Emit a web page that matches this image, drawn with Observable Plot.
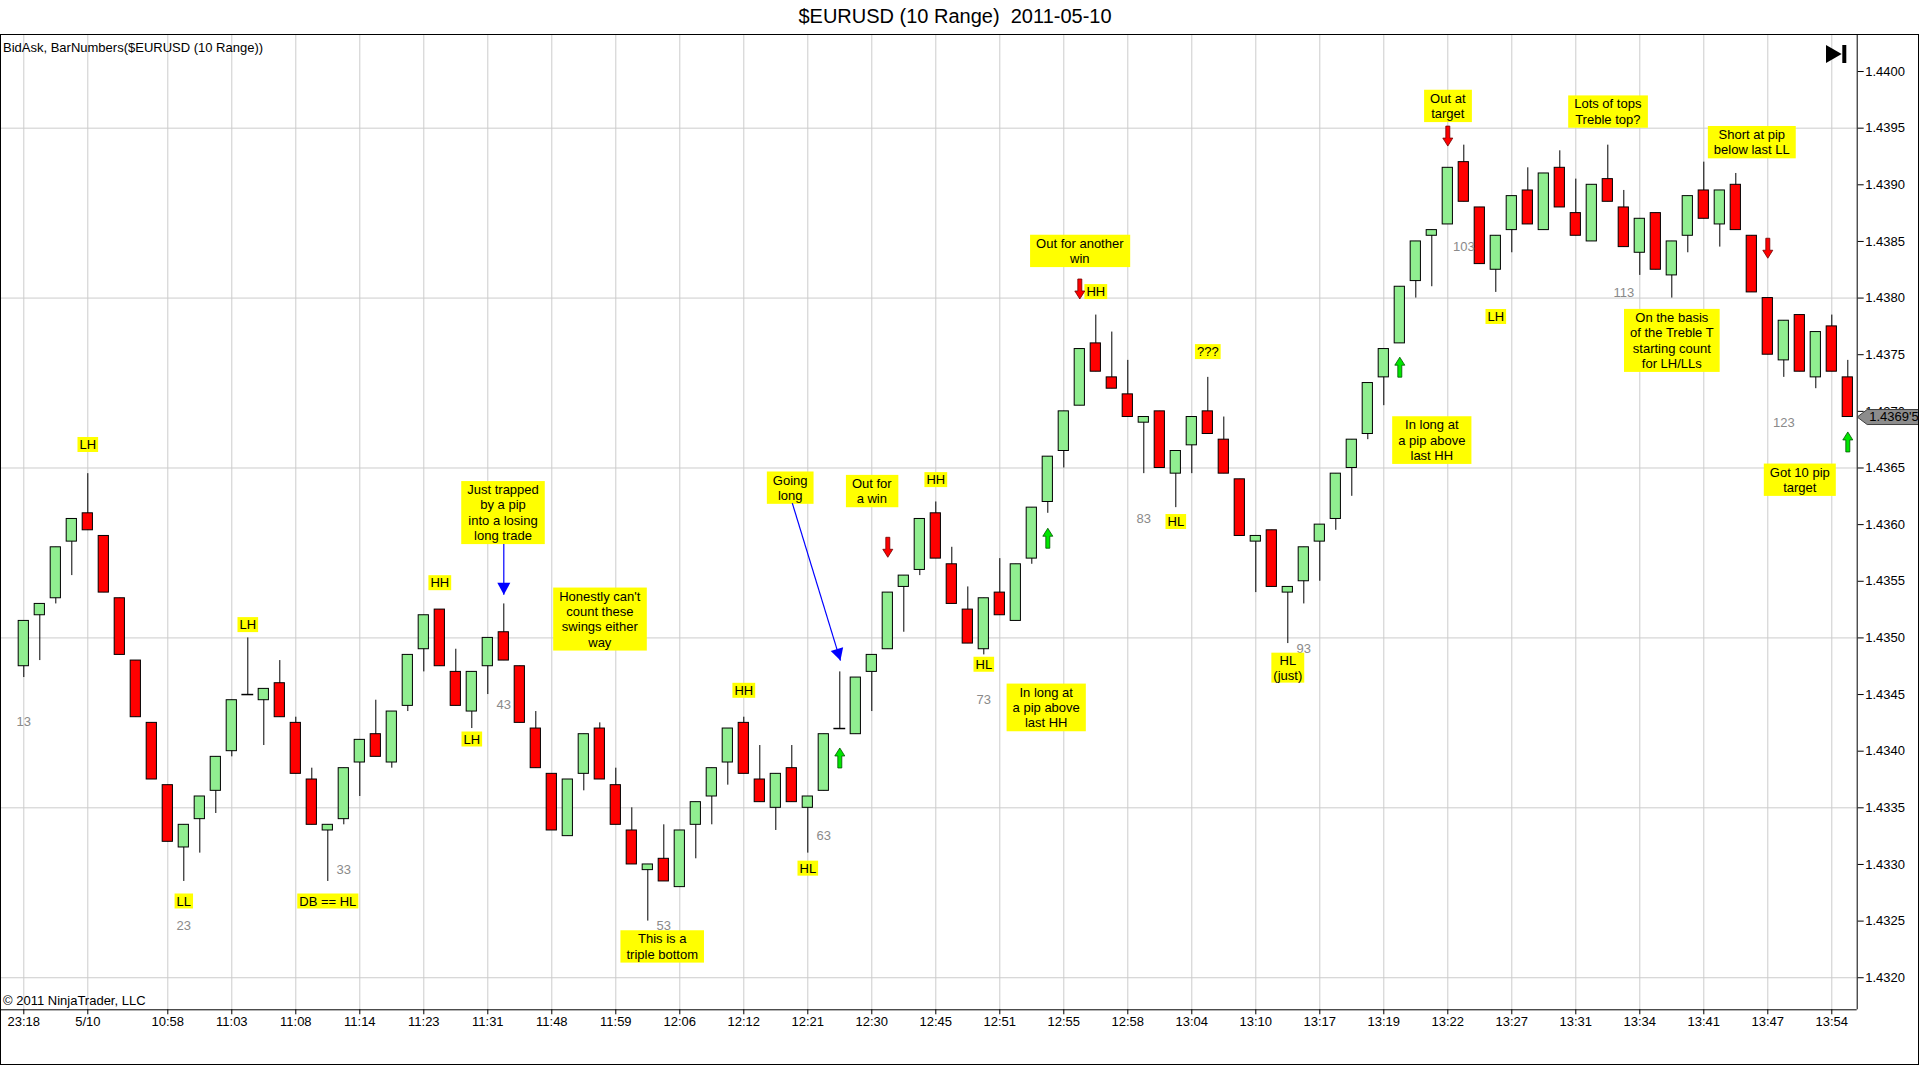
<!DOCTYPE html>
<html>
<head>
<meta charset="utf-8">
<title>$EURUSD (10 Range) 2011-05-10</title>
<script src="https://cdn.jsdelivr.net/npm/d3@7"></script>
<script src="https://cdn.jsdelivr.net/npm/@observablehq/plot@0.6"></script>
<style>
html, body { margin:0; padding:0; background:#fff; }
body { width:1920px; height:1065px; position:relative; overflow:hidden; font-family:"Liberation Sans", Arial, Helvetica, sans-serif; color:#000; }
#title { position:absolute; left:0; top:0; width:1910px; height:34px; line-height:33px; text-align:center; font-size:20px; white-space:pre; }
#frame { position:absolute; left:0; top:34px; width:1919px; height:1031px; box-sizing:border-box; border:1px solid #000; }
#chart { position:absolute; left:1px; top:35px; }
#indicator { position:absolute; left:3px; top:40px; font-size:13px; line-height:15px; white-space:pre; }
#copyright { position:absolute; left:3px; top:993px; font-size:13px; line-height:15px; white-space:pre; }
#endicon { position:absolute; left:1826px; top:45px; }
</style>
</head>
<body>
<div id="title">$EURUSD (10 Range)  2011-05-10</div>
<div id="frame"></div>
<div id="chart"></div>
<div id="indicator">BidAsk, BarNumbers($EURUSD (10 Range))</div>
<div id="copyright">© 2011 NinjaTrader, LLC</div>
<svg id="endicon" width="21" height="19"><polygon points="0,0 15.7,9 0,18" fill="#000"/><rect x="16.3" y="0" width="4" height="18" fill="#000"/></svg>
<script>
// ---------------- data ----------------
const barIdx = d3.range(13, 128); // bar numbers 13..127

const opens = [
  1.43475, 1.43520, 1.43535, 1.43585, 1.43610, 1.43590, 1.43535, 1.43480, 1.43425, 1.43370,
  1.43315, 1.43340, 1.43365, 1.43400, 1.43450, 1.43445, 1.43460, 1.43425, 1.43375, 1.43330,
  1.43340, 1.43390, 1.43415, 1.43390, 1.43440, 1.43490, 1.43525, 1.43470, 1.43435, 1.43475,
  1.43505, 1.43475, 1.43420, 1.43380, 1.43325, 1.43380, 1.43420, 1.43370, 1.43330, 1.43295,
  1.43305, 1.43280, 1.43335, 1.43360, 1.43390, 1.43425, 1.43375, 1.43350, 1.43385, 1.43350,
  1.43365, 1.43420, 1.43415, 1.43470, 1.43490, 1.43545, 1.43560, 1.43610, 1.43565, 1.43525,
  1.43490, 1.43540, 1.43515, 1.43570, 1.43620, 1.43665, 1.43705, 1.43760, 1.43730, 1.43715,
  1.43690, 1.43700, 1.43645, 1.43670, 1.43700, 1.43675, 1.43640, 1.43585, 1.43595, 1.43540,
  1.43550, 1.43585, 1.43605, 1.43650, 1.43680, 1.43730, 1.43760, 1.43815, 1.43855, 1.43865,
  1.43920, 1.43880, 1.43825, 1.43860, 1.43895, 1.43860, 1.43915, 1.43875, 1.43850, 1.43905,
  1.43880, 1.43840, 1.43875, 1.43820, 1.43855, 1.43895, 1.43865, 1.43900, 1.43855, 1.43800,
  1.43745, 1.43785, 1.43730, 1.43775, 1.43730
];
const highs = [
  1.43515, 1.43530, 1.43580, 1.43605, 1.43645, 1.43590, 1.43535, 1.43480, 1.43425, 1.43370,
  1.43335, 1.43360, 1.43395, 1.43445, 1.43500, 1.43455, 1.43480, 1.43430, 1.43385, 1.43335,
  1.43385, 1.43410, 1.43445, 1.43435, 1.43485, 1.43520, 1.43525, 1.43490, 1.43470, 1.43500,
  1.43530, 1.43475, 1.43435, 1.43380, 1.43375, 1.43415, 1.43425, 1.43385, 1.43350, 1.43300,
  1.43335, 1.43330, 1.43355, 1.43385, 1.43420, 1.43430, 1.43405, 1.43380, 1.43405, 1.43360,
  1.43415, 1.43470, 1.43465, 1.43485, 1.43540, 1.43555, 1.43605, 1.43620, 1.43580, 1.43545,
  1.43535, 1.43570, 1.43565, 1.43615, 1.43660, 1.43700, 1.43755, 1.43785, 1.43770, 1.43745,
  1.43695, 1.43700, 1.43665, 1.43695, 1.43730, 1.43695, 1.43640, 1.43590, 1.43595, 1.43545,
  1.43580, 1.43600, 1.43645, 1.43675, 1.43725, 1.43755, 1.43810, 1.43850, 1.43860, 1.43915,
  1.43935, 1.43880, 1.43855, 1.43890, 1.43915, 1.43910, 1.43930, 1.43905, 1.43900, 1.43935,
  1.43895, 1.43870, 1.43875, 1.43850, 1.43890, 1.43920, 1.43895, 1.43910, 1.43855, 1.43800,
  1.43780, 1.43785, 1.43770, 1.43785, 1.43745
];
const lows = [
  1.43465, 1.43480, 1.43530, 1.43555, 1.43595, 1.43540, 1.43485, 1.43430, 1.43375, 1.43320,
  1.43285, 1.43310, 1.43345, 1.43395, 1.43450, 1.43405, 1.43430, 1.43380, 1.43335, 1.43285,
  1.43335, 1.43360, 1.43395, 1.43385, 1.43435, 1.43470, 1.43475, 1.43440, 1.43420, 1.43450,
  1.43480, 1.43425, 1.43385, 1.43330, 1.43325, 1.43365, 1.43375, 1.43335, 1.43300, 1.43250,
  1.43285, 1.43280, 1.43305, 1.43335, 1.43370, 1.43380, 1.43355, 1.43330, 1.43355, 1.43310,
  1.43365, 1.43420, 1.43415, 1.43435, 1.43490, 1.43505, 1.43555, 1.43570, 1.43530, 1.43495,
  1.43485, 1.43520, 1.43515, 1.43565, 1.43610, 1.43650, 1.43705, 1.43735, 1.43720, 1.43695,
  1.43645, 1.43650, 1.43615, 1.43645, 1.43680, 1.43645, 1.43590, 1.43540, 1.43545, 1.43495,
  1.43530, 1.43550, 1.43595, 1.43625, 1.43675, 1.43705, 1.43760, 1.43800, 1.43810, 1.43865,
  1.43885, 1.43830, 1.43805, 1.43840, 1.43865, 1.43860, 1.43880, 1.43855, 1.43850, 1.43885,
  1.43845, 1.43820, 1.43825, 1.43800, 1.43840, 1.43870, 1.43845, 1.43860, 1.43805, 1.43750,
  1.43730, 1.43735, 1.43720, 1.43735, 1.43695
];
const closes = [
  1.43515, 1.43530, 1.43580, 1.43605, 1.43595, 1.43540, 1.43485, 1.43430, 1.43375, 1.43320,
  1.43335, 1.43360, 1.43395, 1.43445, 1.43450, 1.43455, 1.43430, 1.43380, 1.43335, 1.43335,
  1.43385, 1.43410, 1.43395, 1.43435, 1.43485, 1.43520, 1.43475, 1.43440, 1.43470, 1.43500,
  1.43480, 1.43425, 1.43385, 1.43330, 1.43375, 1.43415, 1.43375, 1.43335, 1.43300, 1.43300,
  1.43285, 1.43330, 1.43355, 1.43385, 1.43420, 1.43380, 1.43355, 1.43380, 1.43355, 1.43360,
  1.43415, 1.43420, 1.43465, 1.43485, 1.43540, 1.43555, 1.43605, 1.43570, 1.43530, 1.43495,
  1.43535, 1.43520, 1.43565, 1.43615, 1.43660, 1.43700, 1.43755, 1.43735, 1.43720, 1.43695,
  1.43695, 1.43650, 1.43665, 1.43695, 1.43680, 1.43645, 1.43590, 1.43590, 1.43545, 1.43545,
  1.43580, 1.43600, 1.43645, 1.43675, 1.43725, 1.43755, 1.43810, 1.43850, 1.43860, 1.43915,
  1.43885, 1.43830, 1.43855, 1.43890, 1.43865, 1.43910, 1.43880, 1.43855, 1.43900, 1.43885,
  1.43845, 1.43870, 1.43825, 1.43850, 1.43890, 1.43870, 1.43895, 1.43860, 1.43805, 1.43750,
  1.43780, 1.43735, 1.43770, 1.43735, 1.43695
];

// time axis
const timeTickBars = [13, 17, 22, 26, 30, 34, 38, 42, 46, 50, 54, 58, 62, 66, 70, 74, 78, 82, 86, 90, 94, 98, 102, 106, 110, 114, 118, 122, 126];
const timeLabels = ["23:18", "5/10", "10:58", "11:03", "11:08", "11:14", "11:23", "11:31", "11:48", "11:59", "12:06", "12:12", "12:21", "12:30", "12:45", "12:51", "12:55", "12:58", "13:04", "13:10", "13:17", "13:19", "13:22", "13:27", "13:31", "13:34", "13:41", "13:47", "13:54"];

// price axis
const priceTicks = [1.4320, 1.4325, 1.4330, 1.4335, 1.4340, 1.4345, 1.4350, 1.4355, 1.4360, 1.4365, 1.4370, 1.4375, 1.4380, 1.4385, 1.4390, 1.4395, 1.4400];
const gridPrices = [1.4320, 1.4335, 1.4350, 1.4365, 1.4380, 1.4395];

// bar number indicator
const barNumBars = [13, 23, 33, 43, 53, 63, 73, 83, 93, 103, 113, 123];
const barNumPrices = [1.43426, 1.43246, 1.43295, 1.43441, 1.43246, 1.43325, 1.43445, 1.43605, 1.43490, 1.43845, 1.43805, 1.43690];

// swing tags
const tagBars = [17, 23, 27, 32, 39, 41, 58, 62, 70, 73, 80, 85, 87, 92, 105];
const tagPrices = [1.43671, 1.43268, 1.43512, 1.43268, 1.43549, 1.43411, 1.43454, 1.43297, 1.43640, 1.43477, 1.43806, 1.43603, 1.43753, 1.43474, 1.43784];
const tagTexts = ["LH", "LL", "LH", "DB == HL", "HH", "LH", "HH", "HL", "HH", "HL", "HH", "HL", "???", "HL\n(just)", "LH"];

// comment notes
const noteBars = [42.95, 49.0, 52.9, 60.9, 66.0, 76.9, 79.0, 101.0, 102.0, 112.0, 116.0, 121.0, 124.0];
const notePrices = [1.43611, 1.43517, 1.43228, 1.43633, 1.43630, 1.43439, 1.43842, 1.43675, 1.43970, 1.43965, 1.43763, 1.43938, 1.43640];
const noteTexts = [
  "Just trapped\nby a pip\ninto a losing\nlong trade",
  "Honestly can't\ncount these\nswings either\nway",
  "This is a\ntriple bottom",
  "Going\nlong",
  "Out for\na win",
  "In long at\na pip above\nlast HH",
  "Out for another\nwin",
  "In long at\na pip above\nlast HH",
  "Out at\ntarget",
  "Lots of tops\nTreble top?",
  "On the basis\nof the Treble T\nstarting count\nfor LH/LLs",
  "Short at pip\nbelow last LL",
  "Got 10 pip\ntarget"
];

// trade arrows
const downArrowBars = [67, 79, 102, 122];
const downArrowPrices = [1.43580, 1.43808, 1.43943, 1.43844];
const upArrowBars = [64, 77, 99, 127];
const upArrowPrices = [1.43394, 1.43588, 1.43739, 1.43673];

// blue pointer arrows (from -> to)
const pointerFromBars = [43, 61.03];
const pointerFromPrices = [1.43583, 1.43619];
const pointerToBars = [43, 64.04];
const pointerToPrices = [1.43538, 1.43480];

// ---------------- layout ----------------
const W = 1917, H = 1029;
const mL = 0, mR = 61.3, mT = 0, mB = 54.7;
const xDomain = [11.606, 127.5875];
const yDomain = [1.431717, 1.440318];
const pxPerBar = (W - mL - mR) / (xDomain[1] - xDomain[0]);
const pxPerPrice = (H - mT - mB) / (yDomain[1] - yDomain[0]);

const bars = barIdx.map((b, i) => ({bar: b, open: opens[i], high: highs[i], low: lows[i], close: closes[i]}));
const bodies = bars.filter(d => d.open !== d.close);
const dojis = bars.filter(d => d.open === d.close);
const timeLabelOf = new Map(timeTickBars.map((b, i) => [b, timeLabels[i]]));
const barNums = barNumBars.map((b, i) => ({bar: b, price: barNumPrices[i]}));
const tags = tagBars.map((b, i) => ({bar: b, price: tagPrices[i], text: tagTexts[i]}));
const notes = noteBars.map((b, i) => ({bar: b, price: notePrices[i], text: noteTexts[i]}));
const downArrows = downArrowBars.map((b, i) => ({bar: b, price: downArrowPrices[i]}));
const upArrows = upArrowBars.map((b, i) => ({bar: b, price: upArrowPrices[i]}));
const pointers = pointerFromBars.map((b, i) => {
  const dx = (pointerToBars[i] - b) * pxPerBar;
  const dy = -(pointerToPrices[i] - pointerFromPrices[i]) * pxPerPrice;
  return {x1: b, y1: pointerFromPrices[i], x2: pointerToBars[i], y2: pointerToPrices[i], angle: Math.atan2(dx, -dy) * 180 / Math.PI};
});
const lastPrice = closes[closes.length - 1];
const fmtPrice = p => { const s = p.toFixed(5); return s.slice(0, -1) + "'" + s.slice(-1); };

// custom symbols
const upSym = {draw(c, size) { const s = Math.sqrt(size / Math.PI) / 10;
  c.moveTo(0, -10 * s); c.lineTo(5 * s, -2 * s); c.lineTo(2 * s, -2 * s); c.lineTo(2 * s, 10 * s);
  c.lineTo(-2 * s, 10 * s); c.lineTo(-2 * s, -2 * s); c.lineTo(-5 * s, -2 * s); c.closePath(); }};
const downSym = {draw(c, size) { const s = Math.sqrt(size / Math.PI) / 10;
  c.moveTo(0, 10 * s); c.lineTo(5 * s, 2 * s); c.lineTo(2 * s, 2 * s); c.lineTo(2 * s, -10 * s);
  c.lineTo(-2 * s, -10 * s); c.lineTo(-2 * s, 2 * s); c.lineTo(-5 * s, 2 * s); c.closePath(); }};
const headSym = {draw(c, size) { const s = Math.sqrt(size / Math.PI) / 10;
  c.moveTo(0, 0); c.lineTo(6.5 * s, 12 * s); c.lineTo(-6.5 * s, 12 * s); c.closePath(); }};
const markerSym = {draw(c, size) { const s = Math.sqrt(size / Math.PI) / 10;
  c.moveTo(0, 0); c.lineTo(10 * s, -7.5 * s); c.lineTo(62 * s, -7.5 * s); c.lineTo(62 * s, 7.5 * s); c.lineTo(10 * s, 7.5 * s); c.closePath(); }};

const chart = Plot.plot({
  width: W, height: H,
  marginLeft: mL, marginRight: mR, marginTop: mT, marginBottom: mB,
  style: {fontFamily: '"Liberation Sans", Arial, sans-serif', fontSize: "13px", background: "transparent", color: "#000"},
  x: {type: "linear", domain: xDomain},
  y: {type: "linear", domain: yDomain},
  color: {type: "identity"},
  marks: [
    Plot.ruleY(gridPrices, {stroke: "#cccccc", strokeWidth: 1}),
    Plot.ruleX(timeTickBars, {stroke: "#cccccc", strokeWidth: 1}),
    Plot.ruleY([yDomain[0]], {stroke: "#000"}),
    Plot.ruleX([xDomain[1]], {stroke: "#000"}),
    Plot.axisX(timeTickBars, {anchor: "bottom", tickSize: 5, tickPadding: 2, tickFormat: d => timeLabelOf.get(d), fontSize: 13, label: null}),
    Plot.axisY(priceTicks, {anchor: "right", tickSize: 6, tickPadding: 2, tickFormat: d => d.toFixed(4), fontSize: 13, label: null}),
    Plot.ruleX(bars, {x: "bar", y1: "low", y2: "high", stroke: "#000", strokeWidth: 1}),
    Plot.rect(bodies, {x1: d => d.bar - 0.32, x2: d => d.bar + 0.32, y1: "open", y2: "close",
      fill: d => d.close > d.open ? "#90ee90" : "#ff0000", stroke: "#000", strokeWidth: 1}),
    Plot.ruleY(dojis, {y: "open", x1: d => d.bar - 0.37, x2: d => d.bar + 0.37, stroke: "#000", strokeWidth: 1.5}),
    Plot.text(barNums, {x: "bar", y: "price", text: d => String(d.bar), fill: "#8a8a8a", fontSize: 13}),
    Plot.text(tags, {x: "bar", y: "price", text: "text", fill: "#000", fontSize: 13, lineHeight: 1.15, className: "tag"}),
    Plot.text(notes, {x: "bar", y: "price", text: "text", fill: "#000", fontSize: 13, lineHeight: 1.18, className: "note"}),
    Plot.link(pointers, {x1: "x1", y1: "y1", x2: "x2", y2: "y2", stroke: "#0000ff", strokeWidth: 1.2}),
    Plot.dot(pointers, {x: "x2", y: "y2", symbol: headSym, r: 10, fill: "#0000ff", stroke: "none", rotate: "angle"}),
    Plot.dot(downArrows, {x: "bar", y: "price", symbol: downSym, r: 10, fill: "#ff0000", stroke: "#700000", strokeWidth: 0.8}),
    Plot.dot(upArrows, {x: "bar", y: "price", symbol: upSym, r: 10, fill: "#00e600", stroke: "#005500", strokeWidth: 0.8}),
    Plot.dot([lastPrice], {x: () => xDomain[1], y: d => d, symbol: markerSym, r: 10, fill: "#8c8c8c", stroke: "#404040", strokeWidth: 1}),
    Plot.text([lastPrice], {x: () => xDomain[1], y: d => d, text: d => fmtPrice(d), textAnchor: "start", dx: 12, fontSize: 13, fill: "#000"})
  ]
});

document.getElementById("chart").append(chart);

// yellow highlight boxes behind tags and notes
const NS = "http://www.w3.org/2000/svg";
for (const [sel, px, py] of [["g.tag text", 2, 0], ["g.note text", 6, 1]]) {
  chart.querySelectorAll(sel).forEach(t => {
    const bb = t.getBBox();
    const r = document.createElementNS(NS, "rect");
    r.setAttribute("x", bb.x - px);
    r.setAttribute("y", bb.y - py);
    r.setAttribute("width", bb.width + 2 * px);
    r.setAttribute("height", bb.height + 2 * py);
    const tr = t.getAttribute("transform");
    if (tr) r.setAttribute("transform", tr);
    r.setAttribute("fill", "#ffff00");
    r.setAttribute("stroke", "none");
    t.parentNode.insertBefore(r, t);
  });
}
</script>
</body>
</html>
